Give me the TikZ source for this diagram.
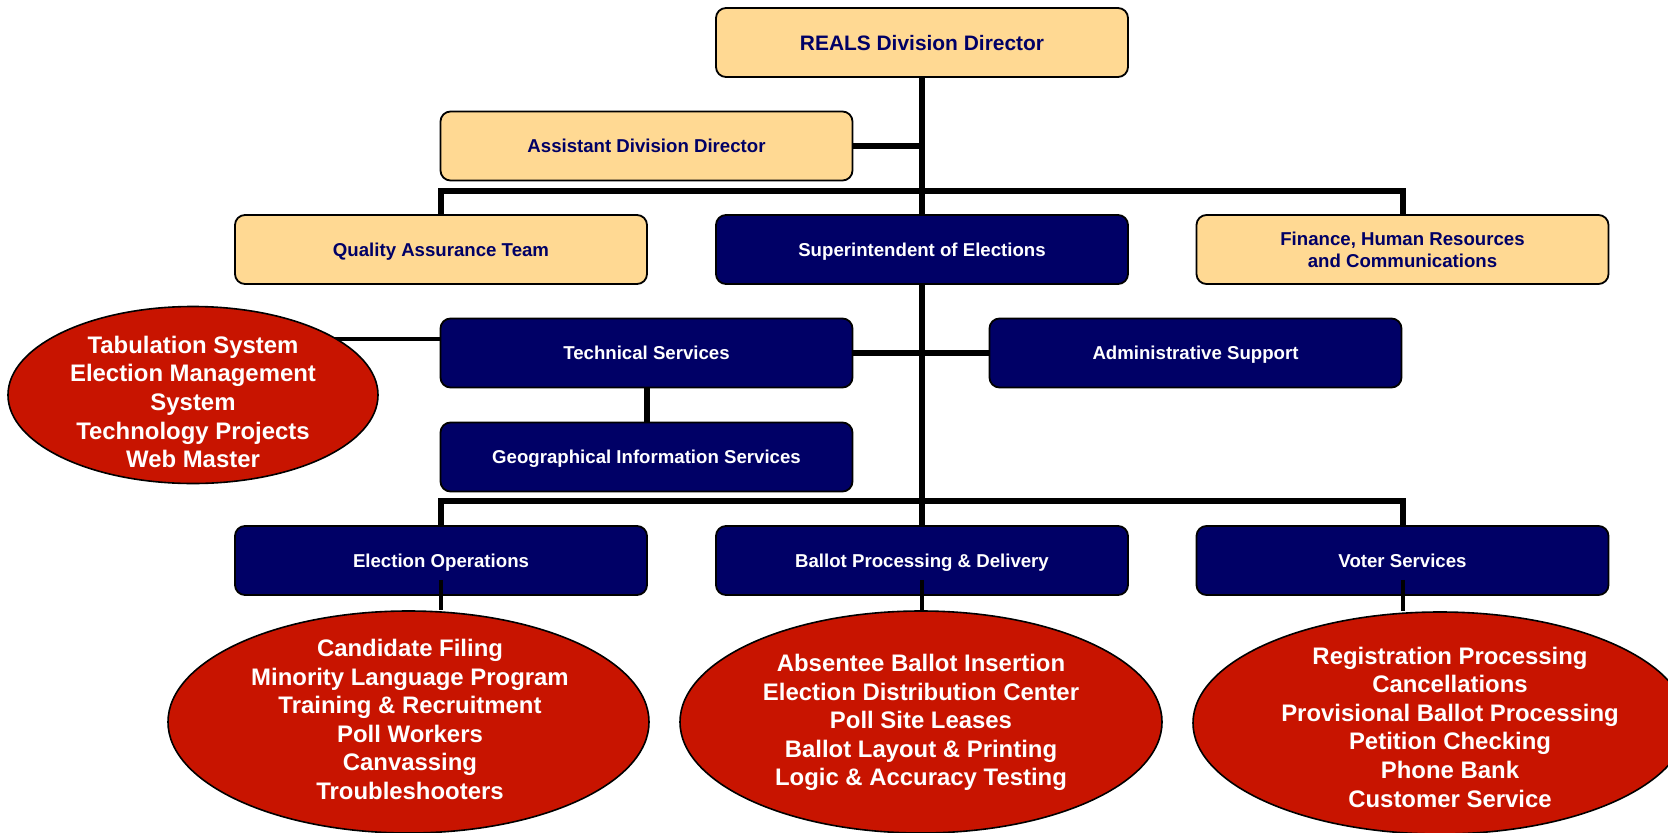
\documentclass[tikz,border=0pt]{standalone}
\usepackage{fontspec}
\setmainfont{Liberation Sans}
\usetikzlibrary{shapes.geometric}
\definecolor{cream}{HTML}{FFD993}
\definecolor{navy}{HTML}{000066}
\definecolor{redfill}{HTML}{C81400}
\pgfdeclarelayer{bg}
\pgfdeclarelayer{mid}
\pgfdeclarelayer{blobs}
\pgfsetlayers{bg,main,mid,blobs}
\begin{document}
\begin{tikzpicture}[x=1bp,y=-1bp,
  box/.style={draw=black, line width=1.8bp, rounded corners=10bp, minimum width=412bp, minimum height=69bp, inner sep=0pt, font=\fontsize{18.7}{22}\selectfont\bfseries, align=center},
  oneline/.style={text height=13.4bp, text depth=0bp},
  tanbox/.style={box, fill=cream, text=navy},
  darkbox/.style={box, oneline, fill=navy, text=white},
  blob/.style={ellipse, draw=black, line width=1.6bp, fill=redfill, inner sep=0pt},
  blobtext/.style={text=white, inner sep=0pt, font=\fontsize{24}{28.7}\selectfont\bfseries, align=center},
  link/.style={line width=6bp},
  sublink/.style={line width=4bp}]
\useasboundingbox (0,0) rectangle (1668,833);
\clip (0,0) rectangle (1668,833);
% hubs
\coordinate (hub1) at (922,191);
\coordinate (hub3) at (922,501);
\coordinate (tabin) at (440,339);
% boxes
\node[tanbox, font=\fontsize{21}{24}\selectfont\bfseries, text height=15bp, text depth=0bp] (dir) at (922,42.5) {REALS Division Director};
\node[tanbox, oneline] (asst) at (646.5,146) {Assistant Division Director};
\node[tanbox, oneline] (qa) at (441,249.5) {Quality Assurance Team};
\node[darkbox] (sup) at (922,249.5) {Superintendent of Elections};
\node[tanbox] (fin) at (1402.5,249.5) {Finance, Human Resources\\and Communications};
\node[darkbox] (tech) at (646.5,353) {Technical Services};
\node[darkbox] (admin) at (1195.5,353) {Administrative Support};
\node[darkbox] (geo) at (646.5,457) {Geographical Information Services};
\node[darkbox] (eo) at (441,560.5) {Election Operations};
\node[darkbox] (bp) at (922,560.5) {Ballot Processing \& Delivery};
\node[darkbox] (vs) at (1402.5,560.5) {Voter Services};
% ellipses
\begin{pgfonlayer}{blobs}
\node[blob, minimum width=370bp, minimum height=177bp] (tabE) at (193,395) {};
\node[blobtext] (tabT) at (193,402) {Tabulation System\\Election Management\\System\\Technology Projects\\Web Master};
\node[blob, minimum width=481bp, minimum height=222bp] (eoE) at (408.5,722) {};
\node[blobtext] (eoT) at (410,719.5) {Candidate Filing\\Minority Language Program\\Training \& Recruitment\\Poll Workers\\Canvassing\\Troubleshooters};
\node[blob, minimum width=482bp, minimum height=222bp] (bpE) at (921,722) {};
\node[blobtext] (bpT) at (921,722.5) {Absentee Ballot Insertion\\Election Distribution Center\\Poll Site Leases\\Ballot Layout \& Printing\\Logic \& Accuracy Testing};
\node[blob, minimum width=494bp, minimum height=222bp] (vsE) at (1440,723) {};
\node[blobtext] (vsT) at (1450,727) {Registration Processing\\Cancellations\\Provisional Ballot Processing\\Petition Checking\\Phone Bank\\Customer Service};
\end{pgfonlayer}
% connectors behind boxes
\begin{pgfonlayer}{bg}
\draw[link] (dir.south) -- (bp.north);
\draw[link] (asst.east) -- (asst.east -| dir.south);
\draw[link] (qa.north) |- (hub1) -| (fin.north);
\draw[link] (tech.east) -- (admin.west);
\draw[link] (tech.south) -- (geo.north);
\draw[link] (eo.north) |- (hub3) -| (vs.north);
\draw[line width=3.5bp] (tabin) -- (tabin -| tabE.center);
\end{pgfonlayer}
% box-to-ellipse links, visible on the boxes
\begin{pgfonlayer}{mid}
\draw[sublink, shorten <=-16bp] (eo.south) -- (eo.south |- eoE.north);
\draw[sublink, shorten <=-16bp] (bp.south) -- (bp.south |- bpE.north);
\draw[sublink, shorten <=-16bp] (vs.south) -- (vs.south |- vsE.north);
\end{pgfonlayer}
\end{tikzpicture}
\end{document}
